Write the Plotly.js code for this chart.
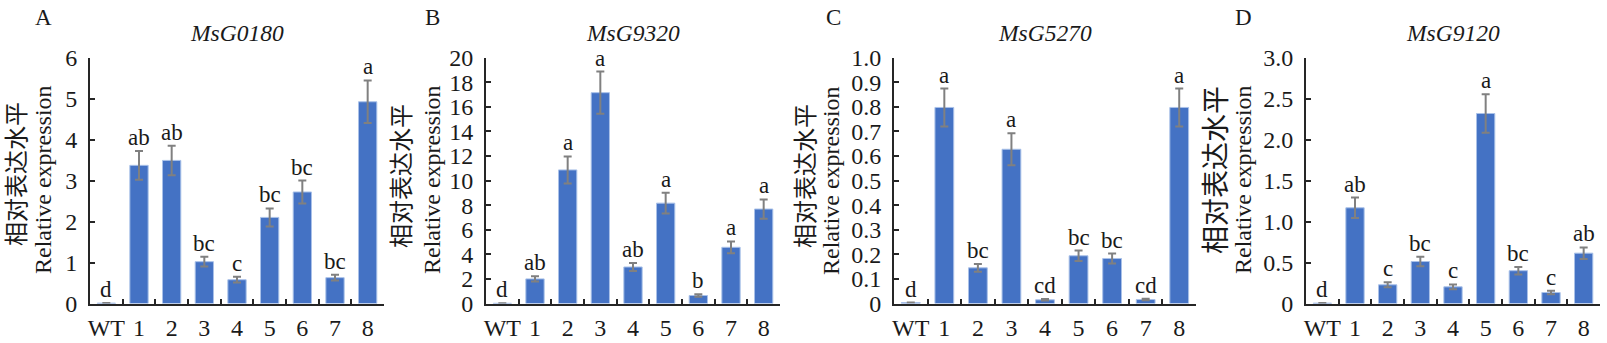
<!DOCTYPE html>
<html>
<head>
<meta charset="utf-8">
<script src="https://cdn.plot.ly/plotly-3.0.1.min.js"></script>
<style>html,body{margin:0;padding:0;background:#fff;}#chart{width:1607px;height:343px;}</style>
</head>
<body>
<div id="chart"></div>
<script>
// ---------- data ----------
const categories = ['WT', '1', '2', '3', '4', '5', '6', '7', '8'];
const geneTitles = ['MsG0180', 'MsG9320', 'MsG5270', 'MsG9120'];
const panelLabels = ['A', 'B', 'C', 'D'];
const yTitleCn = '相对表达水平';
const yTitleEn = 'Relative expression';

const valuesA = [0.01, 3.37, 3.49, 1.02, 0.58, 2.10, 2.72, 0.63, 4.92];
const errorsA = [0, 0.35, 0.36, 0.12, 0.07, 0.22, 0.28, 0.07, 0.52];
const lettersA = ['d', 'ab', 'ab', 'bc', 'c', 'bc', 'bc', 'bc', 'a'];

const valuesB = [0.02, 2.00, 10.86, 17.14, 2.97, 8.16, 0.65, 4.57, 7.68];
const errorsB = [0, 0.21, 1.10, 1.72, 0.33, 0.84, 0.10, 0.48, 0.78];
const lettersB = ['d', 'ab', 'a', 'a', 'ab', 'a', 'b', 'a', 'a'];

const valuesC = [0.004, 0.797, 0.145, 0.627, 0.015, 0.194, 0.183, 0.016, 0.797];
const errorsC = [0, 0.077, 0.016, 0.065, 0.003, 0.021, 0.020, 0.003, 0.077];
const lettersC = ['d', 'a', 'bc', 'a', 'cd', 'bc', 'bc', 'cd', 'a'];

const valuesD = [0.005, 1.167, 0.228, 0.512, 0.203, 2.317, 0.400, 0.134, 0.614];
const errorsD = [0, 0.125, 0.030, 0.057, 0.030, 0.236, 0.046, 0.022, 0.070];
const lettersD = ['d', 'ab', 'c', 'bc', 'c', 'a', 'bc', 'c', 'ab'];

const tickValsA = [0, 1, 2, 3, 4, 5, 6];
const tickTextA = ['0', '1', '2', '3', '4', '5', '6'];
const tickValsB = [0, 2, 4, 6, 8, 10, 12, 14, 16, 18, 20];
const tickTextB = ['0', '2', '4', '6', '8', '10', '12', '14', '16', '18', '20'];
const tickValsC = [0, 0.1, 0.2, 0.3, 0.4, 0.5, 0.6, 0.7, 0.8, 0.9, 1.0];
const tickTextC = ['0', '0.1', '0.2', '0.3', '0.4', '0.5', '0.6', '0.7', '0.8', '0.9', '1.0'];
const tickValsD = [0, 0.5, 1.0, 1.5, 2.0, 2.5, 3.0];
const tickTextD = ['0', '0.5', '1.0', '1.5', '2.0', '2.5', '3.0'];

// ---------- layout geometry (pixels) ----------
const W = 1607, H = 343;
const panels = [
  {vals: valuesA, errs: errorsA, letters: lettersA, tv: tickValsA, tt: tickTextA, ymax: 6,  xpx: [90, 384],   cn: 17,   cny: 174, cns: 24, en: 43,   lab: 43},
  {vals: valuesB, errs: errorsB, letters: lettersB, tv: tickValsB, tt: tickTextB, ymax: 20, xpx: [486, 780],  cn: 402,  cny: 176, cns: 24, en: 432,  lab: 432},
  {vals: valuesC, errs: errorsC, letters: lettersC, tv: tickValsC, tt: tickTextC, ymax: 1,  xpx: [894, 1196], cn: 806,  cny: 176, cns: 24, en: 831,  lab: 833},
  {vals: valuesD, errs: errorsD, letters: lettersD, tv: tickValsD, tt: tickTextD, ymax: 3,  xpx: [1306, 1600], cn: 1216, cny: 170, cns: 28, en: 1243, lab: 1243}
];
const yTopPx = 57.5, yBotPx = 303.5;
const px = v => v / W;
const py = v => 1 - v / H;

const serif = 'Liberation Serif, Times New Roman, serif';
const cnFont = 'Liberation Serif, Noto Sans CJK SC, serif';
const axisColor = '#262626';
const textColor = '#1a1a1a';

const data = [];
const layout = {
  width: W, height: H,
  margin: {l: 0, r: 0, t: 0, b: 0},
  paper_bgcolor: '#ffffff', plot_bgcolor: '#ffffff',
  showlegend: false,
  bargap: 0.44,
  font: {family: serif, size: 22, color: textColor},
  annotations: []
};

panels.forEach((p, i) => {
  const n = i === 0 ? '' : String(i + 1);
  const xa = 'x' + n, ya = 'y' + n;
  data.push({
    type: 'bar', x: categories, y: p.vals, xaxis: xa, yaxis: ya,
    marker: {color: '#4472C4', line: {color: '#a9c1e8', width: 1}},
    error_y: {type: 'data', array: p.errs, visible: true, color: '#808080', thickness: 2, width: 4},
    hoverinfo: 'x+y'
  });
  layout['xaxis' + n] = {
    domain: [px(p.xpx[0]), px(p.xpx[1])], anchor: ya,
    type: 'category', range: [-0.5, 8.5], tickson: 'boundaries',
    tickangle: 0,
    ticks: 'inside', ticklen: 5, tickwidth: 2, tickcolor: axisColor,
    showline: true, linecolor: axisColor, linewidth: 2,
    showgrid: false, zeroline: false, fixedrange: true,
    ticklabelstandoff: 2,
    tickfont: {family: serif, size: 24, color: textColor}
  };
  layout['yaxis' + n] = {
    domain: [py(yBotPx), py(yTopPx)], anchor: xa,
    range: [0, p.ymax], tickmode: 'array', tickvals: p.tv, ticktext: p.tt,
    ticks: 'inside', ticklen: 5, tickwidth: 2, tickcolor: axisColor,
    showline: true, linecolor: axisColor, linewidth: 2,
    showgrid: false, zeroline: false, fixedrange: true,
    ticklabelstandoff: 6,
    tickfont: {family: serif, size: 24, color: textColor}
  };
  // significance letters
  p.letters.forEach((L, k) => {
    layout.annotations.push({
      xref: xa, yref: ya, x: categories[k], y: p.vals[k] + p.errs[k],
      text: L, showarrow: false, yanchor: 'bottom', yshift: 0, borderpad: 0,
      font: {family: serif, size: 23, color: textColor}
    });
  });
  // gene title
  layout.annotations.push({
    xref: 'paper', yref: 'paper', x: px((p.xpx[0] + p.xpx[1]) / 2), y: py(33),
    text: '<i>' + geneTitles[i] + '</i>', showarrow: false, xanchor: 'center', yanchor: 'middle', borderpad: 0,
    font: {family: serif, size: 23.5, color: textColor}
  });
  // panel label
  layout.annotations.push({
    xref: 'paper', yref: 'paper', x: px(p.lab), y: py(17),
    text: panelLabels[i], showarrow: false, xanchor: 'center', yanchor: 'middle',
    font: {family: serif, size: 23, color: textColor}
  });
  // y titles
  layout.annotations.push({
    xref: 'paper', yref: 'paper', x: px(p.cn), y: py(p.cny),
    text: yTitleCn, showarrow: false, textangle: -90, xanchor: 'center', yanchor: 'middle',
    font: {family: cnFont, size: p.cns, color: textColor}
  });
  layout.annotations.push({
    xref: 'paper', yref: 'paper', x: px(p.en), y: py(180),
    text: yTitleEn, showarrow: false, textangle: -90, xanchor: 'center', yanchor: 'middle',
    font: {family: serif, size: 24, color: textColor}
  });
});

Plotly.newPlot('chart', data, layout, {staticPlot: true, displayModeBar: false});
</script>
</body>
</html>
